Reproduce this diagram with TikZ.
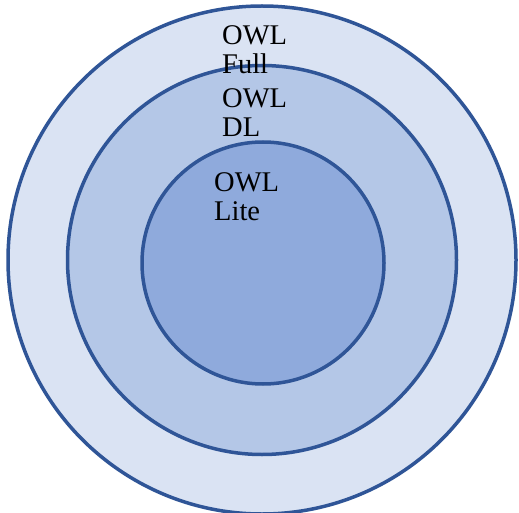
\documentclass[tikz,border=0pt]{standalone}
\usepackage{fontspec}
\setmainfont{Liberation Serif}
\usetikzlibrary{positioning}
\definecolor{owledge}{HTML}{2F5597}
\definecolor{owlfull}{HTML}{DAE3F3}
\definecolor{owldl}{HTML}{B4C7E7}
\definecolor{owllite}{HTML}{8FAADC}
\tikzset{
  ring/.style={circle, draw=owledge, line width=3.5pt, inner sep=0pt},
  owllabel/.style={anchor=north west, align=left, inner sep=0pt,
    font=\fontsize{28.5}{29}\selectfont}
}
\begin{document}
\begin{tikzpicture}[x=1pt,y=-1pt]
    \useasboundingbox (0,0) rectangle (519,513);
    \node[ring, fill=owlfull, minimum size=508pt] (full) at (262,260) {};
    \node[ring, fill=owldl, minimum size=389pt] (dl) at (262,260) {};
    \node[ring, fill=owllite, minimum size=242pt] (lite) at (263,263) {};
    \node[owllabel] (fulltext) at (222,25) {OWL\\Full};
    \node[owllabel] (dltext) at (222,88) {OWL\\DL};
    \node[owllabel] (litetext) at (214,172) {OWL\\Lite};
\end{tikzpicture}
\end{document}
